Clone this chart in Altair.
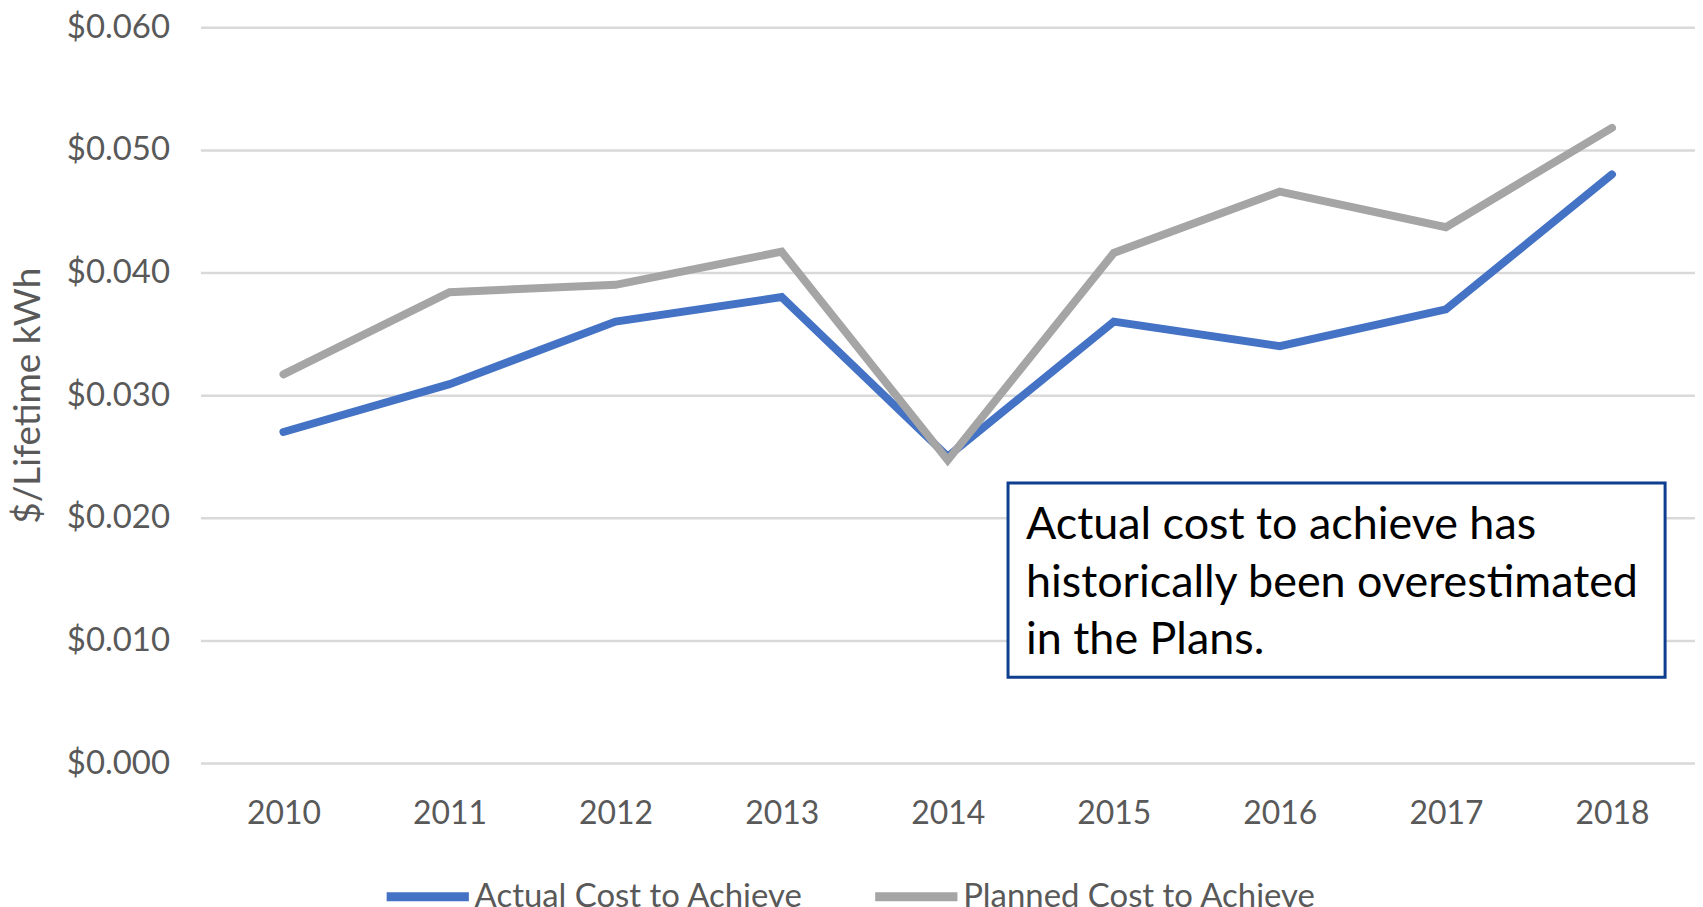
import altair as alt
import pandas as pd

years = ["2010", "2011", "2012", "2013", "2014", "2015", "2016", "2017", "2018"]
actual = [0.0270, 0.0309, 0.0360, 0.0380, 0.0250, 0.0360, 0.0340, 0.0370, 0.0480]
planned = [0.0317, 0.0384, 0.0390, 0.0417, 0.0247, 0.0416, 0.0466, 0.0437, 0.0518]
series = ["Actual Cost to Achieve", "Planned Cost to Achieve"]
colors = ["#4472C4", "#A5A5A5"]
note_text = "Actual cost to achieve has\nhistorically been overestimated\nin the Plans."
y_ticks = [0.0, 0.01, 0.02, 0.03, 0.04, 0.05, 0.06]

rows = []
for y, a, p in zip(years, actual, planned):
    rows.append({"Year": y, "Series": series[0], "Value": a})
    rows.append({"Year": y, "Series": series[1], "Value": p})
df = pd.DataFrame(rows)

FONT = "Lato"
W, H = 1499, 738

lines = alt.Chart(df).mark_line(strokeWidth=8, strokeJoin="miter", strokeCap="round").encode(
    x=alt.X("Year:N", sort=years, scale=alt.Scale(paddingInner=0, paddingOuter=0.5),
            axis=alt.Axis(title=None, labelAngle=0, ticks=False, domain=False, grid=False,
                          labelPadding=36, labelFontSize=32, labelColor="#595959", labelFont=FONT)),
    y=alt.Y("Value:Q", scale=alt.Scale(domain=[0, 0.06], nice=False),
            axis=alt.Axis(title="$/Lifetime kWh", values=y_ticks, format="$.3f", ticks=False, domain=False,
                          grid=True, gridColor="#D9D9D9", gridWidth=2.5,
                          labelPadding=31, labelFontSize=33, labelColor="#595959", labelFont=FONT,
                          titleFont=FONT, titleFontSize=37, titleColor="#595959", titleFontWeight="normal",
                          titleAngle=270, titleX=-172, titleY=369, titleAlign="center", titleBaseline="middle")),
    color=alt.Color("Series:N", scale=alt.Scale(domain=series, range=colors),
                    legend=alt.Legend(title=None, orient="none", direction="horizontal",
                                      legendX=182, legendY=826, symbolType="stroke", symbolStrokeWidth=9,
                                      symbolSize=6800, labelFontSize=33, labelColor="#595959", labelFont=FONT,
                                      labelLimit=1000, labelOffset=1, columnPadding=53)),
    order=alt.Order("Series:N"),
)

box = alt.Chart(pd.DataFrame({"k": [0]})).mark_rect(fill="white", stroke="#0E3F8F", strokeWidth=3).encode(
    x=alt.value(810), x2=alt.value(1469), y=alt.value(457), y2=alt.value(652)
)

note = alt.Chart(pd.DataFrame({"t": [note_text]})).mark_text(
    align="left", baseline="middle", font=FONT, fontSize=45, color="#000000",
    lineBreak="\n", lineHeight=58
).encode(
    x=alt.value(828),
    y=alt.value(499),
    text="t:N",
)

chart = alt.layer(lines, box, note).properties(
    width=W, height=H,
    autosize=alt.AutoSizeParams(type="none"),
    padding={"left": 193, "top": 18, "right": 0, "bottom": 143},
).configure_view(stroke=None)

chart.save("out.html", embed_options={"renderer": "svg", "actions": False})
